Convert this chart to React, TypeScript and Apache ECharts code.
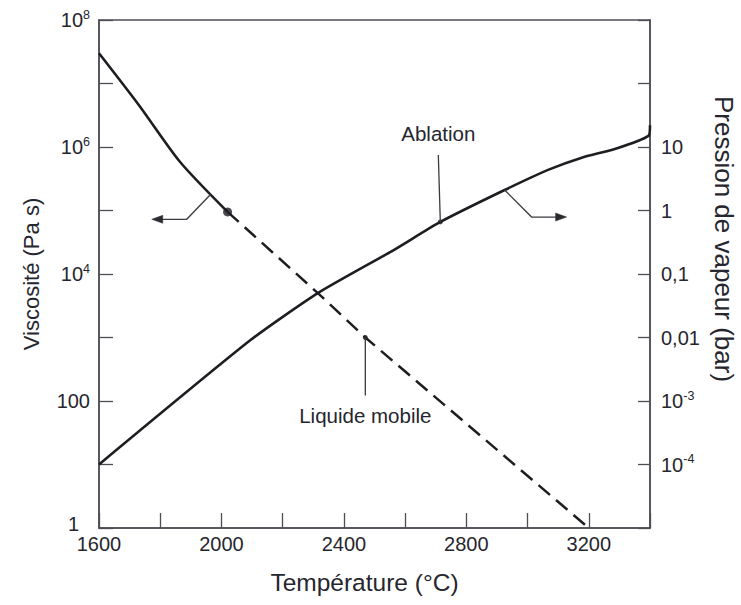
import React, { useEffect, useRef } from "react";
import * as echarts from "echarts";

// ---- data ----
const viscosityTemps = [1600, 1730, 1865, 2020];
const viscosityValues = [3.0e7, 4.6e6, 5.8e5, 9.5e4];
const extrapTemps = [2020, 2315, 2470, 3200];
const extrapValues = [9.5e4, 5.0e3, 1.0e3, 1];
const vaporTemps = [1600, 2095, 2315, 2564, 2715, 2925, 3069, 3177, 3285, 3395, 3400];
const vaporValues = [1e-4, 0.0091, 0.05, 0.24, 0.66, 2.1, 4.4, 6.8, 9.3, 15, 22];
const xTickLabels = [1600, 2000, 2400, 2800, 3200];
const leftLabelExponents = [0, 2, 4, 6, 8];
const rightLabelExponents = [1, 0, -1, -2, -3, -4];
const rightDecimalLabels = ["10", "1", "0,1", "0,01"];

// annotation anchors (data coordinates)
const glassPoint = [2020, 9.5e4];
const liquidPoint = [2470, 1.0e3];
const ablationPoint = [2715, 0.66];
const leftArrowAnchor = [1965, 1.8e5];
const rightArrowAnchor = [2925, 2.1];

const FONT = "'Liberation Sans', Arial, sans-serif";
const INK = "#1e1e22";
const AXIS = "#4d4d55";
const TEXT = "#26262e";

const zip = (a: number[], b: number[]) => a.map((v, i) => [v, b[i]]);

export default function App() {
  const ref = useRef<HTMLDivElement>(null);
  useEffect(() => {
    if (!ref.current) return;
    const chart = echarts.init(ref.current, undefined, { renderer: "svg" });
    const rich = {
      b: { fontSize: 20, color: TEXT, fontFamily: FONT },
      s: { fontSize: 12.5, color: TEXT, fontFamily: FONT, padding: [0, 0, 11, 0] },
      one: { fontSize: 20, color: TEXT, fontFamily: FONT, padding: [0, 11, 8, 0] },
    };
    chart.setOption({
      animation: false,
      backgroundColor: "#fff",
      textStyle: { fontFamily: FONT },
      grid: {
        left: 99,
        top: 20,
        right: 91,
        bottom: 77,
        show: true,
        borderColor: AXIS,
        borderWidth: 1.5,
        outerBoundsMode: "none",
      },
      xAxis: {
        type: "value",
        min: 1600,
        max: 3400,
        interval: 200,
        name: "Température (°C)",
        nameLocation: "middle",
        nameGap: 42,
        nameTextStyle: { fontSize: 24.5, color: TEXT, fontFamily: FONT, padding: [0, 20, 0, 0] },
        axisLine: { show: true, lineStyle: { color: AXIS, width: 1.5 } },
        axisTick: { show: true, inside: true, length: 15, lineStyle: { color: AXIS, width: 1.3 } },
        splitLine: { show: false },
        axisLabel: {
          margin: 6,
          fontSize: 20,
          color: TEXT,
          fontFamily: FONT,
          formatter: (v: number) => (xTickLabels.includes(Math.round(v)) ? String(Math.round(v)) : ""),
        },
      },
      yAxis: [
        {
          type: "log",
          logBase: 10,
          min: 1,
          max: 1e8,
          splitNumber: 8,
          position: "left",
          name: "Viscosité (Pa s)",
          nameLocation: "middle",
          nameRotate: 90,
          nameGap: 57,
          nameTextStyle: { fontSize: 22, color: TEXT, fontFamily: FONT },
          axisLine: { show: true, lineStyle: { color: AXIS, width: 1.5 } },
          axisTick: { show: true, inside: true, length: 14, lineStyle: { color: AXIS, width: 1.3 } },
          splitLine: { show: false },
          axisLabel: {
            margin: 9,
            fontSize: 20,
            color: TEXT,
            fontFamily: FONT,
            rich,
            formatter: (v: number) => {
              const e = Math.round(Math.log10(v));
              if (!leftLabelExponents.includes(e)) return "";
              if (e === 0) return "{one|1}";
              if (e === 2) return "100";
              return `{b|10}{s|${e}}`;
            },
          },
        },
        {
          type: "log",
          logBase: 10,
          min: 1e-5,
          max: 1e3,
          splitNumber: 8,
          position: "right",
          name: "Pression de vapeur (bar)",
          nameLocation: "middle",
          nameRotate: -90,
          nameGap: 53,
          nameTextStyle: { fontSize: 26, color: TEXT, fontFamily: FONT, padding: [0, 70, 0, 0] },
          axisLine: { show: true, lineStyle: { color: AXIS, width: 1.5 } },
          axisTick: { show: true, inside: true, length: 12, lineStyle: { color: AXIS, width: 1.3 } },
          splitLine: { show: false },
          axisLabel: {
            margin: 11,
            fontSize: 20,
            color: TEXT,
            fontFamily: FONT,
            rich,
            formatter: (v: number) => {
              const e = Math.round(Math.log10(v));
              if (!rightLabelExponents.includes(e)) return "";
              if (e >= -2) return rightDecimalLabels[1 - e];
              return `{b|10}{s|${e}}`;
            },
          },
        },
      ],
      series: [
        {
          type: "line",
          yAxisIndex: 0,
          data: zip(viscosityTemps, viscosityValues),
          showSymbol: false,
          symbol: "none",
          smooth: 0.25,
          lineStyle: { color: INK, width: 2.6 },
          z: 3,
        },
        {
          type: "line",
          yAxisIndex: 0,
          data: zip(extrapTemps, extrapValues),
          showSymbol: false,
          symbol: "none",
          lineStyle: { color: INK, width: 2.5, type: [15, 8] },
          z: 3,
        },
        {
          type: "line",
          yAxisIndex: 1,
          data: zip(vaporTemps, vaporValues),
          showSymbol: false,
          symbol: "none",
          smooth: 0.2,
          lineStyle: { color: INK, width: 2.6 },
          z: 3,
        },
        {
          type: "scatter",
          yAxisIndex: 0,
          data: [
            { value: glassPoint, symbolSize: 9 },
            { value: liquidPoint, symbolSize: 5 },
          ],
          itemStyle: { color: INK },
          z: 4,
        },
        {
          type: "scatter",
          yAxisIndex: 1,
          data: [{ value: ablationPoint, symbolSize: 5 }],
          itemStyle: { color: INK },
          z: 4,
        },
      ],
    });

    const pL = (pt: number[]) => chart.convertToPixel({ xAxisIndex: 0, yAxisIndex: 0 }, pt) as number[];
    const pR = (pt: number[]) => chart.convertToPixel({ xAxisIndex: 0, yAxisIndex: 1 }, pt) as number[];
    const la = pL(leftArrowAnchor);
    const ra = pR(rightArrowAnchor);
    const ab = pR(ablationPoint);
    const lq = pL(liquidPoint);
    const lead = { stroke: "#3a3a40", lineWidth: 1.3, fill: null };
    const head = { fill: "#2a2a30", stroke: "#2a2a30", lineWidth: 0.5 };

    const lTip = [la[0] - 59, la[1] + 25];
    const rTip = [ra[0] + 62, ra[1] + 27];

    chart.setOption({
      graphic: [
        {
          type: "polyline",
          shape: { points: [la, [la[0] - 24, la[1] + 25], [lTip[0] + 8, lTip[1]]] },
          style: lead,
          z: 10,
        },
        {
          type: "polygon",
          shape: { points: [lTip, [lTip[0] + 11, lTip[1] - 4], [lTip[0] + 11, lTip[1] + 4]] },
          style: head,
          z: 10,
        },
        {
          type: "polyline",
          shape: { points: [ra, [ra[0] + 27, ra[1] + 27], [rTip[0] - 8, rTip[1]]] },
          style: lead,
          z: 10,
        },
        {
          type: "polygon",
          shape: { points: [rTip, [rTip[0] - 11, rTip[1] - 4], [rTip[0] - 11, rTip[1] + 4]] },
          style: head,
          z: 10,
        },
        {
          type: "line",
          shape: { x1: ab[0], y1: ab[1], x2: ab[0] - 2, y2: ab[1] - 67 },
          style: lead,
          z: 10,
        },
        {
          type: "text",
          x: ab[0] - 2,
          y: ab[1] - 88,
          style: {
            text: "Ablation",
            fontSize: 20.5,
            fontFamily: FONT,
            fill: TEXT,
            align: "center",
            verticalAlign: "middle",
          },
          z: 10,
        },
        {
          type: "line",
          shape: { x1: lq[0], y1: lq[1], x2: lq[0], y2: lq[1] + 58 },
          style: lead,
          z: 10,
        },
        {
          type: "text",
          x: lq[0],
          y: lq[1] + 78,
          style: {
            text: "Liquide mobile",
            fontSize: 20.5,
            fontFamily: FONT,
            fill: TEXT,
            align: "center",
            verticalAlign: "middle",
          },
          z: 10,
        },
      ],
    });

    return () => chart.dispose();
  }, []);
  return (
    <div
      ref={ref}
      style={{ position: "fixed", left: 0, top: 0, width: 741, height: 605, background: "#fff" }}
    />
  );
}
